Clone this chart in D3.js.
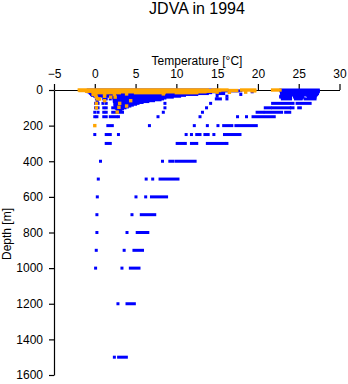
<!DOCTYPE html>
<html>
<head>
<meta charset="utf-8">
<script src="https://cdn.jsdelivr.net/npm/d3@7"></script>
<style>
  html, body { margin: 0; padding: 0; background: #fff; }
  svg { display: block; }
  text { font-family: "Liberation Sans", Arial, Helvetica, sans-serif; fill: #000; }
</style>
</head>
<body>
<svg id="chart" width="348" height="384"></svg>
<script>
// ---- data ----
const title = "JDVA in 1994";
const xLabel = "Temperature [°C]";
const yLabel = "Depth [m]";
const xTicks = [-5, 0, 5, 10, 15, 20, 25, 30];
const yTicks = [0, 200, 400, 600, 800, 1000, 1200, 1400, 1600];

// blue observations: [depth (m), temperature (°C)] or [depth, tFrom, tTo] for a row of adjacent points
const blueObs = [
  // near-surface, left cluster
  [0, -0.8, 14.8], [5, -0.9, 14.5], [10, -0.8, 14.6], [15, -0.6, 14.2], [20, -0.5, 13.8],
  [25, -0.4, 12.5], [30, -0.3, 11.0], [35, 0.0, 10.4], [40, 2.3, 9.5],
  [45, 2.3, 8.6], [50, 2.4, 8.3], [55, 2.4, 8.0], [60, 2.4, 7.2], [65, 2.4, 6.5],
  [70, 2.5, 5.8], [75, 2.5, 5.3], [80, 2.5, 5.0], [85, 2.5, 4.6], [90, 2.5, 4.3],
  [95, 2.6, 4.0], [100, 2.6, 3.7], [105, 2.7, 3.4], [110, 2.8, 3.2],
  // near-surface, middle
  [5, 14.5, 17.9], [10, 19.3], [25, 17.9], [20, 15.0, 15.8], [35, 15.0], [35, 16.2],
  [50, 14.9, 15.4], [50, 16.2],
  // columns near 0-3 °C
  [40, 0.3], [50, 0.2], [50, 0.5], [50, 1.1], [50, 1.4], [50, 1.9],
  [60, 0.3], [60, 1.2],
  [75, 0.1], [75, 0.4], [75, 1.0], [75, 1.4], [75, 8.6],
  [100, 0.1], [100, 0.4], [100, 1.1], [100, 1.4], [100, 2.2, 3.2], [100, 8.6],
  [125, 0.0], [125, 0.4], [125, 1.1], [125, 1.4], [125, 2.2, 3.4], [125, 8.4],
  [150, 0.0], [150, 0.26], [150, 1.1, 1.4], [150, 1.9, 2.6], [150, 2.9], [150, 7.75],
  // 13-15 °C profile
  [75, 14.2], [100, 13.7], [125, 13.2], [150, 12.9],
  // warm right block
  [0, 22.8, 27.4], [5, 22.8, 27.4], [10, 22.9, 27.4], [15, 22.9, 27.3], [20, 22.9, 27.3],
  [25, 23.0, 24.0], [25, 24.3, 25.6], [25, 25.9, 27.2],
  [30, 23.0, 24.0], [30, 24.4, 25.5], [30, 26.0, 27.1],
  [35, 22.8, 23.9], [35, 24.5, 25.5], [35, 26.2, 27.0],
  [40, 22.8, 24.0], [40, 24.5, 25.5], [40, 26.2, 27.0],
  [45, 23.0, 23.9], [45, 24.6, 25.4], [45, 26.2, 26.9],
  [50, 23.0, 24.0], [50, 24.6, 25.3], [50, 25.8, 27.0],
  [75, 21.8, 24.3], [75, 24.8, 26.4],
  [100, 20.9, 21.5], [100, 21.8, 23.9], [100, 24.1, 24.3], [100, 25.0, 25.2],
  [125, 19.9, 20.6], [125, 20.9, 22.9], [125, 23.4, 23.9],
  [150, 17.5], [150, 18.6], [150, 19.4, 22.0],
  // 200 m
  [200, 1.6, 2.15], [200, 6.7], [200, 12.2], [200, 13.8], [200, 15.1], [200, 15.8, 16.8], [200, 17.3, 19.8],
  // 250 m
  [250, 0.0], [250, 1.4, 1.9], [250, 2.9], [250, 11.2], [250, 11.85], [250, 12.5, 12.9],
  [250, 13.5, 13.9], [250, 14.6], [250, 15.9, 17.8],
  // 300 m
  [300, 1.4, 1.9], [300, 10.1, 10.8], [300, 11.1], [300, 11.85, 12.5], [300, 13.8, 15.9], [300, 16.2],
  // 400 m
  [400, 0.7], [400, 8.3], [400, 9.2, 9.6], [400, 10.0, 12.3],
  // 500 m
  [500, 0.43], [500, 6.3], [500, 7.1], [500, 8.0, 10.2],
  // 600 m
  [600, 0.31], [600, 5.05], [600, 6.24], [600, 6.95, 8.8],
  // 700 m
  [700, 0.26], [700, 4.56], [700, 5.7, 7.35],
  // 800 m
  [800, 0.26], [800, 3.95], [800, 5.2, 6.5],
  // 900 m
  [900, 0.18], [900, 3.6], [900, 4.8, 5.85],
  // 1000 m
  [1000, 0.1], [1000, 3.33], [1000, 4.36, 5.42],
  // 1200 m
  [1200, 2.84], [1200, 3.95, 4.85],
  // 1500 m
  [1500, 2.4], [1500, 2.92, 3.87]
];

// orange observations
const orangeObs = [
  [0, -1.9, 13.8], [3, -1.8, 15.3], [7, -1.0, 14.8], [10, -0.2, 13.5],
  [15, 0.0, 3.0], [15, 5.0, 8.5], [15, 10.0, 12.5],
  [0, 14.5, 16.2], [3, 16.6, 17.4], [0, 18.0, 19.6], [5, 19.3, 19.6], [0, 21.8, 22.7],
  [12, 15.0], [13, 16.5], [12, 18.5],
  [20, 0.1], [25, -0.2], [30, 0.1], [40, 0.2], [50, 0.3], [50, 0.6], [75, 0.2], [100, 0.2],
  [25, 1.2], [35, 1.2], [40, 1.95], [60, 1.2],
  [25, 2.4], [40, 2.5], [22, 3.9], [22, 8.4],
  [60, 4.4], [75, 3.05], [90, 3.9], [97, 2.96], [124, 2.75],
  [200, 0.0]
];

// ---- drawing ----
const svg = d3.select("#chart");
const x = d3.scaleLinear().domain([-5, 30]).range([54, 339.5]);
const y = d3.scaleLinear().domain([0, 1600]).range([90, 375]);

svg.append("text")
  .attr("x", 197).attr("y", 13.5)
  .attr("text-anchor", "middle")
  .style("font-size", "16px")
  .text(title);

svg.append("text")
  .attr("x", 197).attr("y", 65)
  .attr("text-anchor", "middle")
  .style("font-size", "12px")
  .text(xLabel);

svg.append("text")
  .attr("transform", "translate(10.5,234) rotate(-90)")
  .attr("text-anchor", "middle")
  .style("font-size", "12px")
  .text(yLabel);

const xAxis = svg.append("g")
  .attr("transform", `translate(0,${y(0)})`)
  .call(d3.axisTop(x).tickValues(xTicks).tickSize(6).tickSizeOuter(0).tickPadding(6).tickFormat(d3.format("d")));
const yAxis = svg.append("g")
  .attr("transform", `translate(${x(-5)},0)`)
  .call(d3.axisLeft(y).tickValues(yTicks).tickSize(5).tickSizeOuter(0).tickPadding(6).tickFormat(d3.format("d")));

[xAxis, yAxis].forEach(g => {
  g.selectAll("path, line").attr("stroke", "#000").attr("stroke-width", 1.2);
  g.selectAll("text").style("font-size", "12px").style("font-family", "'Liberation Sans', Arial, sans-serif").attr("fill", "#000");
});

function drawObs(data, color, size) {
  svg.append("g").selectAll("rect")
    .data(data)
    .join("rect")
    .attr("x", d => x(d[1]) - size / 2)
    .attr("y", d => y(d[0]) - size / 2)
    .attr("width", d => (d.length > 2 ? x(d[2]) - x(d[1]) : 0) + size)
    .attr("height", size)
    .attr("fill", color);
}

drawObs(blueObs, "#0000ff", 3);
drawObs(orangeObs, "#ffa500", 3.4);
</script>
</body>
</html>
